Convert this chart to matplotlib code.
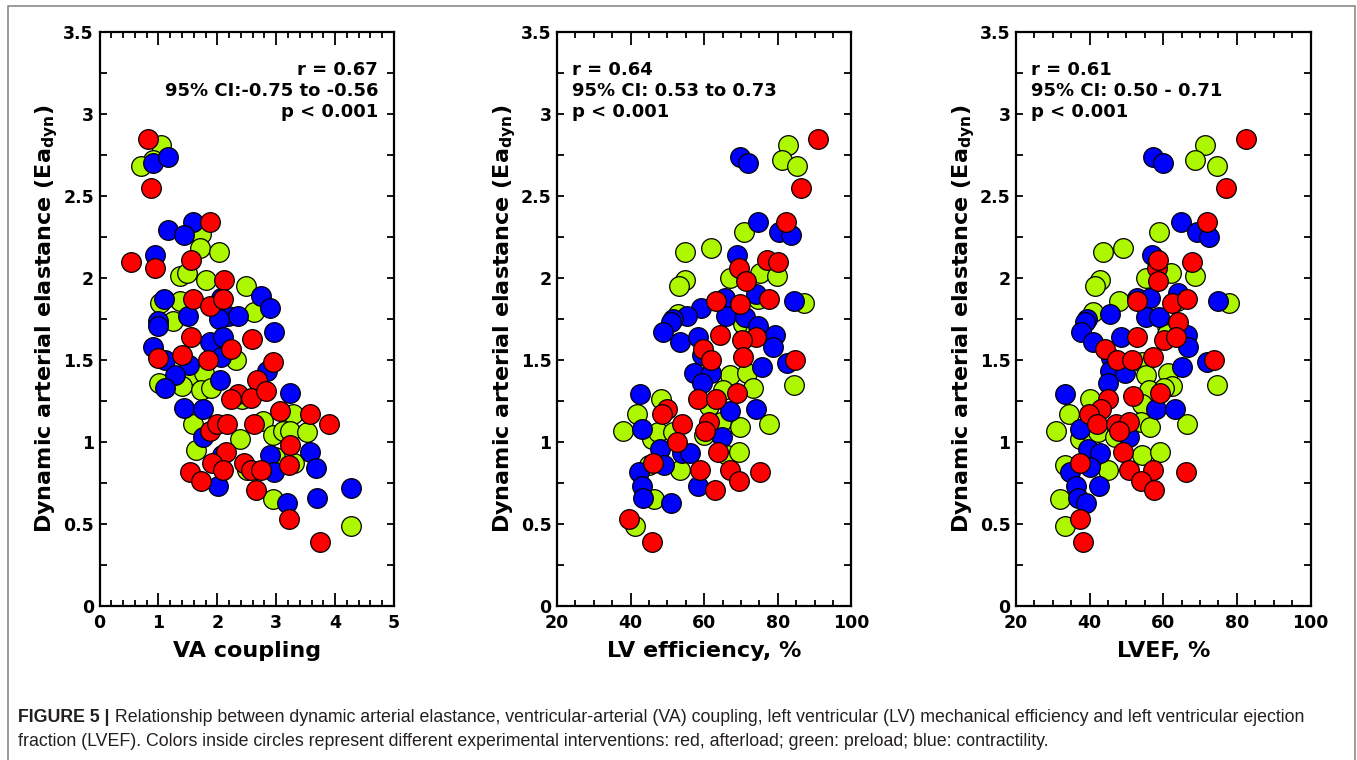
"""Figure 5: Ea_dyn vs VA coupling, LV efficiency and LVEF"""

import matplotlib

matplotlib.use("Agg")
import matplotlib.pyplot as plt
from matplotlib.patches import Rectangle
from matplotlib.ticker import MultipleLocator

# 颜色：red=afterload, green=preload, blue=contractility
RED = "#ff0000"
GREEN = "#adf700"
BLUE = "#0000ff"

# ---- 面板 1: VA coupling (x, Ea_dyn) ----
va_red = [(0.83, 2.85), (0.88, 2.55), (1.87, 2.34), (0.54, 2.10), (0.95, 2.06), (1.56, 2.11),
          (2.12, 1.99), (1.59, 1.87), (1.87, 1.83), (2.10, 1.87), (1.56, 1.64), (2.24, 1.57),
          (2.59, 1.63), (1.00, 1.51), (1.40, 1.53), (1.85, 1.50), (2.94, 1.49), (2.68, 1.38),
          (2.35, 1.29), (2.24, 1.26), (2.57, 1.27), (2.83, 1.31), (3.07, 1.19), (3.58, 1.17),
          (3.89, 1.11), (1.87, 1.07), (2.00, 1.11), (2.17, 1.11), (2.63, 1.11), (2.14, 0.94),
          (3.24, 0.98), (1.91, 0.87), (2.46, 0.87), (3.22, 0.86), (1.53, 0.82), (2.09, 0.83),
          (2.58, 0.83), (2.75, 0.83), (1.72, 0.76), (2.66, 0.71), (3.22, 0.53), (3.74, 0.39)]
va_green = [(1.05, 2.81), (0.91, 2.72), (0.70, 2.68), (1.73, 2.27), (1.70, 2.18), (2.03, 2.16),
            (1.36, 2.01), (1.49, 2.03), (1.81, 1.99), (2.49, 1.95), (1.02, 1.85), (1.36, 1.86),
            (2.63, 1.79), (1.24, 1.74), (2.32, 1.50), (1.60, 1.41), (1.77, 1.42), (1.01, 1.36),
            (1.40, 1.34), (1.72, 1.32), (1.90, 1.33), (2.42, 1.26), (3.28, 1.17), (1.58, 1.11),
            (2.39, 1.02), (2.77, 1.13), (2.94, 1.04), (3.11, 1.07), (3.24, 1.07), (3.52, 1.06),
            (1.63, 0.95), (2.98, 0.91), (3.30, 0.87), (2.50, 0.83), (2.94, 0.65), (4.27, 0.49)]
va_blue = [(0.90, 2.70), (1.16, 2.74), (1.16, 2.29), (1.59, 2.34), (1.44, 2.26), (0.95, 2.14),
           (2.75, 1.89), (2.89, 1.82), (2.07, 1.88), (1.10, 1.87), (2.18, 1.77), (2.35, 1.77),
           (1.50, 1.77), (1.00, 1.74), (0.99, 1.71), (2.03, 1.75), (1.87, 1.61), (2.10, 1.64),
           (2.96, 1.67), (0.91, 1.58), (1.12, 1.50), (1.52, 1.47), (2.06, 1.52), (2.85, 1.43),
           (1.28, 1.41), (2.04, 1.38), (1.12, 1.33), (3.24, 1.30), (1.44, 1.21), (1.75, 1.20),
           (1.75, 1.03), (2.08, 0.92), (2.90, 0.92), (3.58, 0.94), (3.68, 0.84), (2.97, 0.82),
           (2.01, 0.73), (3.19, 0.63), (3.70, 0.66), (4.27, 0.72)]

# ---- 面板 2: LV efficiency, % ----
eff_red = [(90.9, 2.85), (86.4, 2.55), (82.1, 2.34), (77.0, 2.11), (80.0, 2.10), (69.4, 2.06),
           (71.3, 1.98), (63.1, 1.86), (69.6, 1.84), (77.6, 1.87), (74.0, 1.64), (64.2, 1.65),
           (70.2, 1.62), (59.7, 1.57), (70.5, 1.52), (84.6, 1.50), (61.7, 1.50), (69.0, 1.30),
           (58.3, 1.26), (63.2, 1.26), (49.9, 1.20), (48.6, 1.17), (53.9, 1.11), (61.4, 1.12),
           (52.5, 1.00), (60.3, 1.07), (63.7, 0.94), (46.1, 0.87), (58.9, 0.83), (66.9, 0.83),
           (75.1, 0.82), (62.9, 0.71), (69.4, 0.76), (39.6, 0.53), (45.7, 0.39)]
eff_green = [(82.7, 2.81), (81.2, 2.72), (85.2, 2.68), (70.7, 2.28), (54.9, 2.16), (61.7, 2.18),
             (75.2, 2.03), (79.7, 2.01), (67.1, 2.00), (54.9, 1.99), (53.2, 1.95), (74.6, 1.87),
             (87.0, 1.85), (52.9, 1.78), (70.6, 1.72), (73.8, 1.67), (67.1, 1.41), (71.6, 1.42),
             (84.5, 1.35), (65.1, 1.32), (73.3, 1.33), (61.4, 1.22), (48.2, 1.26), (41.6, 1.17),
             (64.6, 1.12), (69.6, 1.09), (77.7, 1.11), (38.0, 1.07), (45.7, 1.02), (47.5, 1.06),
             (51.6, 1.06), (59.8, 1.04), (66.2, 0.92), (69.4, 0.94), (44.9, 0.86), (53.5, 0.83),
             (46.4, 0.65), (41.1, 0.49)]
eff_blue = [(69.6, 2.74), (71.9, 2.70), (74.6, 2.34), (80.3, 2.28), (83.6, 2.26), (68.9, 2.14),
            (65.6, 1.88), (74.0, 1.90), (84.3, 1.86), (59.0, 1.82), (55.3, 1.77), (51.5, 1.75),
            (51.1, 1.73), (66.0, 1.77), (71.2, 1.76), (74.6, 1.71), (48.8, 1.67), (53.4, 1.61),
            (58.3, 1.64), (79.2, 1.65), (78.8, 1.58), (82.6, 1.48), (59.3, 1.53), (57.2, 1.42),
            (61.8, 1.42), (75.7, 1.46), (59.5, 1.36), (42.5, 1.29), (67.1, 1.19), (74.0, 1.20),
            (43.0, 1.08), (64.7, 1.03), (48.1, 0.96), (53.9, 0.93), (56.2, 0.93), (49.0, 0.86),
            (42.4, 0.82), (43.0, 0.73), (58.2, 0.73), (43.3, 0.66), (50.9, 0.63)]

# ---- 面板 3: LVEF, % ----
ef_red = [(82.6, 2.85), (77.0, 2.55), (72.0, 2.34), (67.9, 2.10), (58.4, 2.06), (58.5, 2.11),
          (58.6, 1.98), (52.9, 1.86), (62.5, 1.85), (66.5, 1.87), (64.1, 1.73), (60.3, 1.62),
          (63.5, 1.64), (52.9, 1.64), (44.3, 1.57), (57.2, 1.52), (47.5, 1.50), (51.5, 1.50),
          (73.8, 1.50), (59.1, 1.30), (51.7, 1.28), (45.1, 1.26), (43.2, 1.20), (39.7, 1.17),
          (42.1, 1.11), (47.3, 1.11), (50.6, 1.12), (48.0, 1.07), (49.1, 0.94), (37.4, 0.87),
          (50.6, 0.83), (57.3, 0.83), (66.1, 0.82), (53.9, 0.76), (57.5, 0.71), (37.4, 0.53),
          (38.3, 0.39)]
ef_green = [(71.4, 2.81), (68.6, 2.72), (74.5, 2.68), (58.8, 2.28), (43.6, 2.16), (49.1, 2.18),
            (62.0, 2.03), (68.6, 2.01), (55.2, 2.00), (42.9, 1.99), (41.5, 1.95), (48.1, 1.86),
            (63.8, 1.86), (77.9, 1.85), (40.8, 1.79), (61.1, 1.71), (61.1, 1.66), (54.1, 1.49),
            (55.2, 1.41), (61.3, 1.42), (74.5, 1.35), (56.1, 1.32), (62.4, 1.34), (60.1, 1.33),
            (54.1, 1.23), (40.0, 1.26), (34.5, 1.17), (54.0, 1.12), (56.3, 1.09), (66.5, 1.11),
            (30.8, 1.07), (37.4, 1.02), (40.2, 1.06), (42.4, 1.06), (47.0, 1.03), (54.1, 0.92),
            (59.1, 0.94), (33.3, 0.86), (45.1, 0.83), (32.0, 0.65), (33.2, 0.49)]
ef_blue = [(57.2, 2.74), (59.9, 2.70), (64.9, 2.34), (69.3, 2.28), (72.3, 2.25), (57.0, 2.14),
           (52.8, 1.88), (56.5, 1.88), (64.0, 1.91), (75.0, 1.86), (45.6, 1.78), (39.3, 1.75),
           (55.3, 1.76), (58.9, 1.76), (38.8, 1.73), (66.4, 1.65), (66.8, 1.58), (37.7, 1.67),
           (40.9, 1.61), (48.4, 1.64), (45.7, 1.51), (72.0, 1.49), (65.0, 1.46), (45.6, 1.43),
           (49.7, 1.42), (45.1, 1.36), (33.4, 1.29), (57.9, 1.20), (63.1, 1.20), (37.4, 1.08),
           (50.8, 1.03), (39.5, 0.96), (42.9, 0.93), (40.1, 0.85), (34.7, 0.82), (36.2, 0.73),
           (42.6, 0.73), (36.9, 0.66), (39.0, 0.63)]

x_labels = ["VA coupling", "LV efficiency, %", "LVEF, %"]
stats_text = [
    "r = 0.67\n95% CI:-0.75 to -0.56\np < 0.001",
    "r = 0.64\n95% CI: 0.53 to 0.73\np < 0.001",
    "r = 0.61\n95% CI: 0.50 - 0.71\np < 0.001",
]
caption_bold = "FIGURE 5 |"
caption_rest = (
    " Relationship between dynamic arterial elastance, ventricular-arterial (VA) coupling, "
    "left ventricular (LV) mechanical efficiency and left ventricular ejection"
)
caption_line2 = (
    "fraction (LVEF). Colors inside circles represent different experimental interventions: "
    "red, afterload; green: preload; blue: contractility."
)

plt.rcParams["font.family"] = ["DejaVu Sans"]
W, H = 1357, 760


def style_axis(ax, xlim, xmajor, xminor):
    """刻度全部朝内，四边都有"""
    ax.set_xlim(*xlim)
    ax.set_ylim(0, 3.5)
    ax.xaxis.set_major_locator(MultipleLocator(xmajor))
    ax.xaxis.set_minor_locator(MultipleLocator(xminor))
    ax.yaxis.set_major_locator(MultipleLocator(0.5))
    ax.yaxis.set_minor_locator(MultipleLocator(0.25))
    ax.yaxis.set_major_formatter(lambda v, _: f"{v:g}")
    ax.tick_params(which="both", direction="in", top=True, right=True,
                   width=1.3, labelsize=12.5)
    ax.tick_params(axis="x", which="major", length=9.5, pad=6)
    ax.tick_params(axis="x", which="minor", length=4.5)
    ax.tick_params(axis="y", which="both", length=5, pad=4)
    for lab in ax.get_xticklabels() + ax.get_yticklabels():
        lab.set_fontweight("bold")
    for sp in ax.spines.values():
        sp.set_linewidth(1.6)


def draw_points(ax, pts, color):
    xs, ys = zip(*pts)
    ax.scatter(xs, ys, s=200, c=color, edgecolors="black", linewidths=0.9, zorder=3)


fig = plt.figure(figsize=(W / 100, H / 100), dpi=100)

panels = [
    (99.5, (0, 5), 1, 0.2, (va_green, va_blue, va_red)),
    (557, (20, 100), 20, 5, (eff_green, eff_blue, eff_red)),
    (1016, (20, 100), 20, 5, (ef_green, ef_blue, ef_red)),
]
for i, (left_px, xlim, xmaj, xmin, (g, b, r)) in enumerate(panels):
    ax = fig.add_axes([left_px / W, 1 - 606 / H, 294.5 / W, 574 / H])
    draw_points(ax, g, GREEN)
    draw_points(ax, b, BLUE)
    draw_points(ax, r, RED)
    style_axis(ax, xlim, xmaj, xmin)
    ax.set_xlabel(x_labels[i], fontsize=16, fontweight="bold", labelpad=6)
    ax.set_ylabel("Dynamic arterial elastance (Ea$_{\\mathbf{dyn}}$)",
                  fontsize=16, fontweight="bold", labelpad=2)
    if i == 0:
        ax.text(0.946, 0.95, stats_text[i], transform=ax.transAxes, ha="right",
                va="top", fontsize=13, fontweight="bold", linespacing=1.22)
    else:
        ax.text(0.051, 0.95, stats_text[i], transform=ax.transAxes, ha="left",
                va="top", fontsize=13, fontweight="bold", linespacing=1.22)

# 外框
fig.patches.append(Rectangle((8 / W, -0.02), (1355 - 8) / W, (H - 6) / H + 0.02,
                             transform=fig.transFigure, fill=False,
                             edgecolor="#8a8a8a", linewidth=1.2))

# 图注
cap_font = ["Liberation Sans", "DejaVu Sans"]
t0 = fig.text(18 / W, 1 - 717 / H, caption_bold, fontsize=12.8, fontweight="bold",
              family=cap_font, color="#231f20", va="center")
cap_ax = fig.add_axes([0, 0, 1, 1])
cap_ax.axis("off")
cap_ax.annotate(caption_rest, xy=(1, 0), xycoords=t0, va="bottom", ha="left",
                fontsize=12.8, family=cap_font, color="#231f20")
fig.text(18 / W, 1 - 741 / H, caption_line2, fontsize=12.8, family=cap_font,
         color="#231f20", va="center")

fig.savefig("out.png", dpi=100)
